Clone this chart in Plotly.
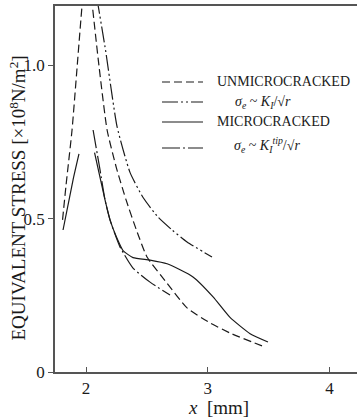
import plotly.graph_objects as go

# ---- data ----
unmic_left_x = [1.807, 1.836, 1.885, 1.926, 1.967, 1.975]
unmic_left_y = [0.496, 0.610, 0.789, 0.991, 1.193, 1.22]
unmic_right_x = [2.045, 2.10, 2.173, 2.25, 2.329, 2.415, 2.501, 2.665, 2.830, 3.019, 3.200, 3.446]
unmic_right_y = [1.22, 1.02, 0.789, 0.665, 0.561, 0.462, 0.375, 0.290, 0.209, 0.160, 0.124, 0.085]

k_x = [2.089, 2.16, 2.255, 2.362, 2.47, 2.592, 2.71, 2.830, 3.035]
k_y = [1.22, 1.05, 0.800, 0.650, 0.568, 0.505, 0.462, 0.424, 0.375]

mic_left_x = [1.811, 1.893, 1.942]
mic_left_y = [0.463, 0.626, 0.711]
mic_right_x = [2.07, 2.12, 2.156, 2.197, 2.25, 2.304, 2.386, 2.526, 2.666, 2.879, 3.044, 3.183, 3.348, 3.495]
mic_right_y = [0.715, 0.626, 0.561, 0.496, 0.440, 0.396, 0.373, 0.365, 0.353, 0.310, 0.245, 0.178, 0.125, 0.098]

ktip_x = [2.058, 2.115, 2.156, 2.197, 2.279, 2.386, 2.526, 2.690]
ktip_y = [0.789, 0.659, 0.561, 0.496, 0.408, 0.339, 0.293, 0.251]

x_ticks = [2, 3, 4]
y_ticks = [0, 0.5, 1.0]
y_ticklabels = ["0", "0.5", "1.0"]

legend_labels = [
    "UNMICROCRACKED",
    "<i>σ<sub>e</sub></i> ~ <i>K<sub>I</sub></i>/√<i>r</i>",
    "MICROCRACKED",
    "<i>σ<sub>e</sub></i> ~ <i>K<sub>I</sub></i><sup><i>tip</i></sup>/√<i>r</i>",
]

# ---- styles ----
INK = "#1a1a1a"
FONT = "'Liberation Serif', 'DejaVu Serif', 'Times New Roman', serif"
DASH = "8px,4px"
DASHDOTDOT = "16px,3px,2px,3px,2px,3px"
DASHDOT = "18px,3px,2px,3px"
dashes = [DASH, DASHDOTDOT, "solid", DASHDOT]

fig = go.Figure()

def add(x, y, dash):
    fig.add_trace(go.Scatter(x=x, y=y, mode="lines", showlegend=False,
                             line=dict(color=INK, width=1.2, dash=dash, shape="spline", smoothing=0.5),
                             hoverinfo="skip"))

add(unmic_left_x, unmic_left_y, DASH)
add(unmic_right_x, unmic_right_y, DASH)
add(k_x, k_y, DASHDOTDOT)
add(mic_left_x, mic_left_y, "solid")
add(mic_right_x, mic_right_y, "solid")
add(ktip_x, ktip_y, DASHDOT)

W, H = 357, 418
L, R, T, B = 55, 0, 6, 46
pw, ph = W - L - R, H - T - B

def px(xp):
    return (xp - L) / pw

def py(yp):
    return (H - B - yp) / ph

# legend (custom)
line_y = [82, 102, 122, 148]
text_y = [81, 103, 121, 145]
text_x = [215, 233, 215, 232]
for i, lab in enumerate(legend_labels):
    d = dashes[i]
    fig.add_shape(type="line", xref="paper", yref="paper",
                  x0=px(162), x1=px(203), y0=py(line_y[i]), y1=py(line_y[i]),
                  line=dict(color=INK, width=1.2, dash=d))
    fig.add_annotation(xref="paper", yref="paper", x=px(text_x[i]), y=py(text_y[i]),
                       text=lab, showarrow=False, xanchor="left", yanchor="middle",
                       font=dict(family=FONT, size=14, color=INK))

# axis titles
fig.add_annotation(xref="paper", yref="paper", x=px(17), y=py(198.5),
                   text="EQUIVALENT STRESS [×10<sup>8</sup>N/m<sup>2</sup>]",
                   textangle=-90, showarrow=False, xanchor="center", yanchor="middle",
                   font=dict(family=FONT, size=19, color=INK))
fig.add_annotation(xref="paper", yref="paper", x=px(218), y=py(407),
                   text="<i>x</i>  [mm]", showarrow=False, xanchor="center", yanchor="middle",
                   font=dict(family=FONT, size=19, color=INK))

fig.update_layout(
    width=W, height=H,
    margin=dict(l=L, r=R, t=T, b=B),
    plot_bgcolor="white", paper_bgcolor="white",
    font=dict(family=FONT, color=INK),
    xaxis=dict(range=[1.745, 1.745 + pw / 121.7], tickvals=x_ticks, ticktext=[str(v) for v in x_ticks],
               ticks="inside", ticklen=5, tickcolor="#555", showgrid=False, zeroline=False,
               showline=True, linecolor="#555", linewidth=1.5, mirror=True,
               tickfont=dict(family=FONT, size=17, color=INK)),
    yaxis=dict(range=[0, ph / 306.7], tickvals=y_ticks, ticktext=y_ticklabels,
               ticks="outside", ticklen=5, tickcolor="#555", showgrid=False, zeroline=False,
               showline=True, linecolor="#555", linewidth=1.5,
               tickfont=dict(family=FONT, size=17, color=INK)),
)

fig.write_html("out.html")
